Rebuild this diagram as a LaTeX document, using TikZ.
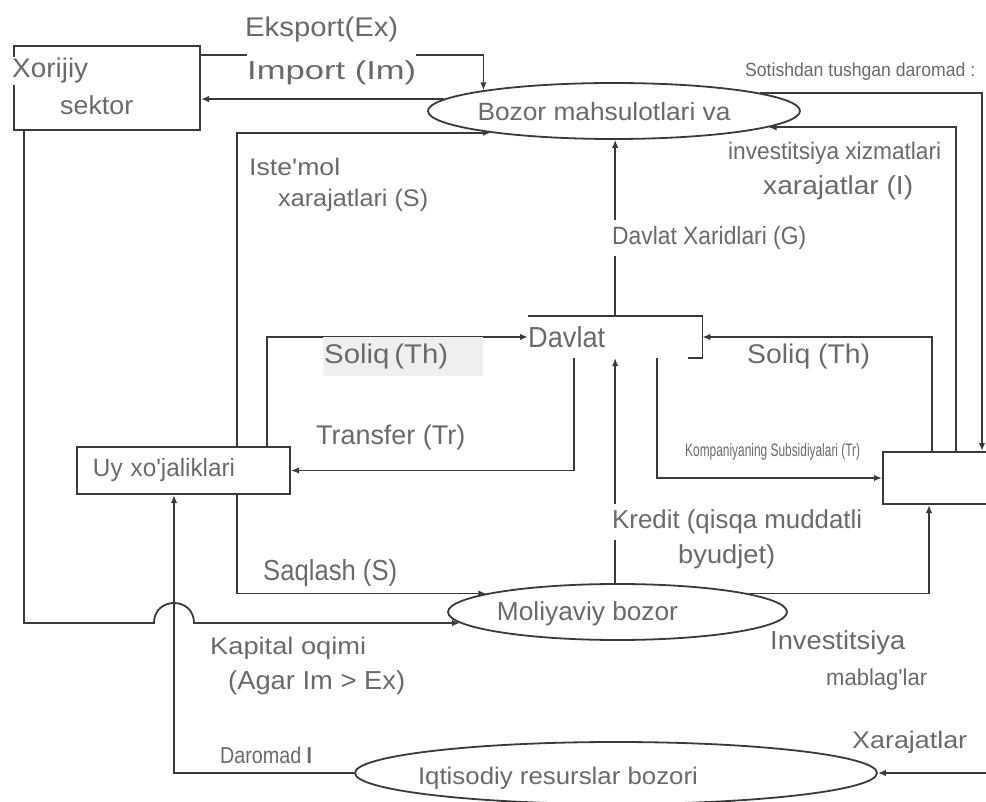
\documentclass[tikz,border=0pt]{standalone}
\usepackage{fontspec}
\setmainfont{Liberation Sans}
\newfontfamily\labfont{Liberation Sans}
\usepackage{graphicx}
\usetikzlibrary{arrows.meta,shapes.geometric}
\definecolor{ink}{HTML}{3A3A3A}
\definecolor{txt}{HTML}{6A6A6A}
\definecolor{shade}{HTML}{EFEFEF}
% text at a given size, stretched or squeezed to a given width
\newcommand\lbl[3]{\resizebox{#2pt}{\height}{\labfont\fontsize{#1pt}{#1pt}\selectfont #3}}
\begin{document}
\begin{tikzpicture}[x=1pt,y=-1pt,
  box/.style={draw=ink, line width=2pt, rectangle, inner sep=0pt},
  oval/.style={draw=ink, line width=1.8pt, ellipse, inner sep=0pt},
  flow/.style={draw=ink, line width=1.8pt, -{Latex[length=8pt,width=6.5pt]}},
  wire/.style={draw=ink, line width=1.8pt},
  tag/.style={text=txt, inner sep=0pt, anchor=west},
  every label/.style={text=txt, inner sep=0pt}]
\useasboundingbox (0,0) rectangle (986,802);
\clip (0,0) rectangle (986,802);
\fill[white] (0,0) rectangle (986,802);

% sectors and markets
\node[box, minimum width=186pt, minimum height=84pt] (xor) at (107,88) {};
\node[box, minimum width=213pt, minimum height=47pt, text width=213pt, align=left, text=txt] (uy) at (183.5,470.5) {\hspace*{16pt}\lbl{25}{142}{Uy\,\,xo'jaliklari}};
\node[box, minimum width=134pt, minimum height=52pt] (firm) at (950,478) {};
\node[oval, minimum width=372pt, minimum height=56pt,
  label={[xshift=-10pt,yshift=-1pt]center:\lbl{25}{253}{Bozor mahsulotlari va}}] (bozor) at (614,111) {};
\node[oval, minimum width=339pt, minimum height=56pt,
  label={[xshift=-30pt,yshift=-2pt]center:\lbl{26}{181}{Moliyaviy bozor}}] (moliya) at (617.5,612) {};
\node[oval, minimum width=522pt, minimum height=62pt,
  label={[xshift=-58pt,yshift=-5pt]center:\lbl{24}{280}{Iqtisodiy resurslar bozori}}] (iqt) at (616,773) {};
\node[inner sep=0pt, minimum height=42pt, text width=174pt, align=left, anchor=west, text=txt] (davlat) at (528,337) {\lbl{29}{77}{Davlat}};
\draw[wire] (davlat.north west) -- (davlat.north east) -- (davlat.south east) -- ++(-14,0);

% flows
\draw[flow] ([yshift=-10pt]xor.north east) -| (bozor.171);
\draw[flow] (bozor.176) -- (bozor.176 -| xor.east);
\draw[flow] (bozor.7) -| ([xshift=100pt]firm.north west);
\draw[flow] ([xshift=74pt]firm.north west) |- (bozor.-6);
\draw[flow] (davlat.north) -- (davlat.north |- bozor.south);
\draw[flow] ([xshift=161pt]uy.north west) |- (bozor.-170);
\draw[flow] ([xshift=191pt]uy.north west) |- (davlat.west);
\draw[flow] ([xshift=46pt]davlat.south west) |- (uy.east);
\draw[flow] ([xshift=129pt]davlat.south west) |- (firm.west);
\draw[flow] ([xshift=50pt]firm.north west) |- (davlat.east);
\draw[flow] (davlat.south |- moliya.north) -- (davlat.south);
\draw[flow] (moliya.8) -| ([xshift=47pt]firm.south west);
\draw[flow] ([xshift=161pt]uy.south west) |- (moliya.172);
\coordinate (jump) at ([xshift=98pt]uy.south west |- moliya.184);
\draw[flow] ([xshift=11pt]xor.south west) |- ([xshift=-20pt]jump)
  .. controls +(0,-26.7) and +(0,-26.7) .. ([xshift=20pt]jump) -- (moliya.184);
\draw[flow] (iqt.west) -| ([xshift=98pt]uy.south west);
\draw[flow] ([xshift=-20pt]firm.south east) |- (iqt.east);

% flow labels
\node[tag] (lEx) at (245,30) {\lbl{27}{153}{Eksport(Ex)}};
\node[tag, fill=white, inner ysep=8.5pt] (lIm) at (247,73) {\lbl{26}{169}{Import (Im)}};
\node[tag, fill=white, inner sep=1pt] (lXor) at (11,71) {\lbl{27}{76}{Xorijiy}};
\node[tag] (lSek) at (60,105) {\lbl{26}{73}{sektor}};
\node[tag] (lSot) at (745,72) {\lbl{19}{230}{Sotishdan tushgan daromad :}};
\node[tag] (lInv1) at (728,153) {\lbl{24}{213}{investitsiya xizmatlari}};
\node[tag] (lInv2) at (763,188) {\lbl{26}{150}{xarajatlar (I)}};
\node[tag] (lIst1) at (249,167) {\lbl{24}{91}{Iste'mol}};
\node[tag] (lIst2) at (278,200) {\lbl{24}{150}{xarajatlari (S)}};
\node[tag, fill=white, inner ysep=6pt, inner xsep=2pt] (lG) at (610,238) {\lbl{25}{194}{Davlat Xaridlari (G)}};
\node[tag, fill=shade, minimum height=39pt, text width=160pt, align=left] (lTh1) at (323,356.5) {\hspace*{1pt}\lbl{27}{124}{Soliq\,(Th)}};
\node[tag] (lTh2) at (747,357) {\lbl{27}{123}{Soliq (Th)}};
\node[tag] (lTr) at (316,438) {\lbl{27}{149}{Transfer (Tr)}};
\node[tag] (lSub) at (685,452) {\lbl{18}{175}{Kompaniyaning Subsidiyalari (Tr)}};
\node[tag, fill=white, inner ysep=6pt, inner xsep=2pt] (lKr) at (610,522) {\lbl{26}{250}{Kredit (qisqa muddatli}};
\node[tag] (lKr2) at (678,557) {\lbl{26}{97}{byudjet)}};
\node[tag] (lSaq) at (263,573) {\lbl{29}{134}{Saqlash (S)}};
\node[tag] (lKap1) at (210,648) {\lbl{24}{156}{Kapital oqimi}};
\node[tag] (lKap2) at (228,683) {\lbl{26}{177}{(Agar Im > Ex)}};
\node[tag] (lInvM1) at (770,643) {\lbl{26}{135}{Investitsiya}};
\node[tag] (lInvM2) at (826,680) {\lbl{23}{101}{mablag'lar}};
\node[tag] (lDar) at (220,755) {\lbl{23}{92}{Daromad {\bfseries I}}};
\node[tag] (lXar) at (852,742) {\lbl{24}{115}{Xarajatlar}};
\end{tikzpicture}
\end{document}
